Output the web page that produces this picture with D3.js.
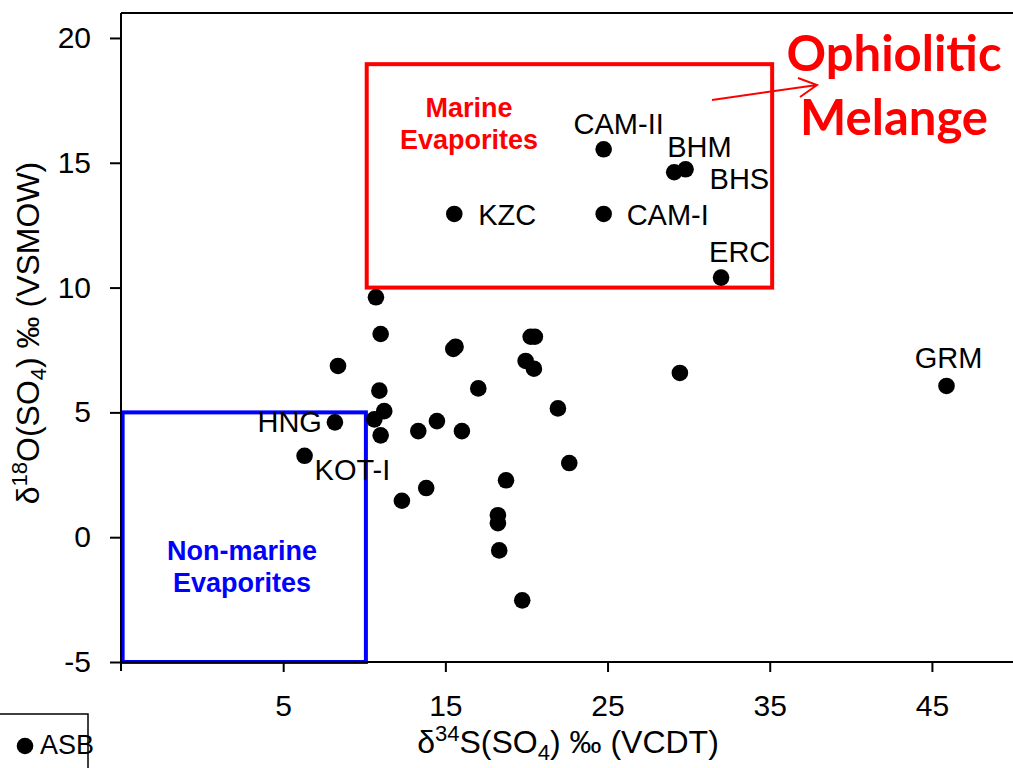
<!DOCTYPE html>
<html>
<head>
<meta charset="utf-8">
<script src="https://cdn.jsdelivr.net/npm/d3@7"></script>
<style>
  body { margin: 0; background: #fff; }
  svg { display: block; font-family: "Liberation Sans", Arial, sans-serif; }
</style>
</head>
<body>
<div id="chart"></div>
<script>
// sample values: d34S (x) and d18O (y)
var sites = ["KZC", "CAM-II", "CAM-I", "BHM", "BHS", "ERC", "GRM", "HNG", "KOT-I",
  "", "", "", "", "", "", "", "", "", "", "", "", "", "", "", "", "", "", "", "", "", "", "", "", "", "", ""];
var s34 = [15.55, 24.76, 24.76, 29.11, 29.81, 32.0, 45.9, 8.19, 6.32,
  10.72, 11.01, 8.38, 15.63, 15.49, 20.26, 20.52, 19.95, 20.46, 10.93, 17.03, 11.23, 10.62, 11.01,
  13.33, 14.48, 16.02, 21.94, 22.64, 18.74, 13.82, 12.32, 18.24, 18.24, 18.32, 19.74, 29.46];
var o18 = [12.95, 15.54, 12.95, 14.62, 14.74, 10.40, 6.06, 4.60, 3.26,
  9.61, 8.14, 6.86, 7.63, 7.54, 8.03, 8.03, 7.06, 6.75, 5.87, 5.96, 5.05, 4.72, 4.08,
  4.25, 4.65, 4.25, 5.16, 2.97, 2.28, 1.97, 1.46, 0.88, 0.56, -0.53, -2.53, 6.58];

var xTicks = [5, 15, 25, 35, 45];
var yTicks = [-5, 0, 5, 10, 15, 20];

// reference fields [x0, x1, y0, y1]
var marineBox = [10.15, 35.15, 10, 18.95];
var nonMarineBox = [-4.9, 10.1, -5, 5];

// where each site label sits around its dot (px)
var labelPos = {
  "KZC":   {anchor: "start",  dx: 24,  dy: 11},
  "CAM-II":{anchor: "middle", dx: 15,  dy: -15},
  "CAM-I": {anchor: "start",  dx: 23,  dy: 11},
  "BHM":   {anchor: "start",  dx: -7,  dy: -15},
  "BHS":   {anchor: "start",  dx: 24,  dy: 20},
  "ERC":   {anchor: "start",  dx: -12, dy: -16},
  "GRM":   {anchor: "middle", dx: 2,   dy: -18},
  "HNG":   {anchor: "end",    dx: -13, dy: 10},
  "KOT-I": {anchor: "start",  dx: 10,  dy: 24}
};

var W = 1013, H = 768;
var plotL = 121, plotR = 1013, plotT = 13, plotB = 662;

var svg = d3.select("#chart").append("svg")
    .attr("width", W).attr("height", H);

var x = d3.scaleLinear().domain([-5, 50]).range([plotL, plotR]);
var y = d3.scaleLinear().domain([-5, 21]).range([plotB, plotT]);

var data = s34.map(function(d, i) { return {x: d, y: o18[i], name: sites[i]}; });

// boxes
svg.append("rect")
    .attr("x", x(marineBox[0])).attr("y", y(marineBox[3]))
    .attr("width", x(marineBox[1]) - x(marineBox[0]))
    .attr("height", y(marineBox[2]) - y(marineBox[3]))
    .attr("fill", "none").attr("stroke", "#ff0000").attr("stroke-width", 4);

svg.append("rect")
    .attr("x", x(nonMarineBox[0])).attr("y", y(nonMarineBox[3]))
    .attr("width", x(nonMarineBox[1]) - x(nonMarineBox[0]))
    .attr("height", y(nonMarineBox[2]) - y(nonMarineBox[3]))
    .attr("fill", "none").attr("stroke", "#0000ff").attr("stroke-width", 4);

// axes (plain hyphen for negatives, like the original)
var fmt = function(d) { return String(d); };
var xAxis = d3.axisBottom(x).tickValues(xTicks).tickFormat(fmt).tickSize(10).tickPadding(23);
var yAxis = d3.axisLeft(y).tickValues(yTicks).tickFormat(fmt).tickSize(11).tickPadding(19);

var gx = svg.append("g").attr("transform", "translate(0," + plotB + ")").call(xAxis);
var gy = svg.append("g").attr("transform", "translate(" + plotL + ",0)").call(yAxis);

[gx, gy].forEach(function(g) {
  g.select(".domain").remove();
  g.selectAll("line").attr("stroke", "#000").attr("stroke-width", 2);
  g.selectAll("text").attr("fill", "#000")
    .style("font-family", "'Liberation Sans', Arial, sans-serif")
    .style("font-size", "30px");
});

svg.append("line").attr("x1", plotL).attr("x2", plotR).attr("y1", plotB).attr("y2", plotB)
    .attr("stroke", "#000").attr("stroke-width", 2);
svg.append("line").attr("x1", plotL).attr("x2", plotL).attr("y1", plotT).attr("y2", plotB + 9)
    .attr("stroke", "#000").attr("stroke-width", 2);
svg.append("line").attr("x1", plotL).attr("x2", plotR).attr("y1", plotT).attr("y2", plotT)
    .attr("stroke", "#000").attr("stroke-width", 2);

// axis titles
var xt = svg.append("text").attr("x", 568).attr("y", 753)
    .attr("text-anchor", "middle").style("font-size", "32px");
xt.append("tspan").text("δ");
xt.append("tspan").attr("dy", -12).style("font-size", "22px").text("34");
xt.append("tspan").attr("dy", 12).text("S(SO");
xt.append("tspan").attr("dy", 7).style("font-size", "22px").text("4");
xt.append("tspan").attr("dy", -7).text(") ‰ (VCDT)");

var yt = svg.append("text").attr("transform", "translate(39,333) rotate(-90)")
    .attr("text-anchor", "middle").style("font-size", "32px");
yt.append("tspan").text("δ");
yt.append("tspan").attr("dy", -12).style("font-size", "22px").text("18");
yt.append("tspan").attr("dy", 12).text("O(SO");
yt.append("tspan").attr("dy", 7).style("font-size", "22px").text("4");
yt.append("tspan").attr("dy", -7).text(") ‰ (VSMOW)");

// points
svg.append("g").selectAll("circle")
    .data(data).enter().append("circle")
    .attr("cx", function(d) { return x(d.x); })
    .attr("cy", function(d) { return y(d.y); })
    .attr("r", 8.3)
    .attr("fill", "#000");

// site labels
svg.append("g").selectAll("text")
    .data(data.filter(function(d) { return d.name; })).enter().append("text")
    .attr("x", function(d) { return x(d.x) + labelPos[d.name].dx; })
    .attr("y", function(d) { return y(d.y) + labelPos[d.name].dy; })
    .attr("text-anchor", function(d) { return labelPos[d.name].anchor; })
    .style("font-size", "29px")
    .text(function(d) { return d.name; });

// field names
var me = svg.append("text").attr("text-anchor", "middle")
    .attr("fill", "#ff0000").style("font-weight", "bold").style("font-size", "27px");
me.append("tspan").attr("x", 469).attr("y", 117).text("Marine");
me.append("tspan").attr("x", 469).attr("y", 149).text("Evaporites");

var ne = svg.append("text").attr("text-anchor", "middle")
    .attr("fill", "#0000ff").style("font-weight", "bold").style("font-size", "27px");
ne.append("tspan").attr("x", 242).attr("y", 560).text("Non-marine");
ne.append("tspan").attr("x", 242).attr("y", 592).text("Evaporites");

// ophiolitic melange callout
var om = svg.append("text").attr("text-anchor", "middle")
    .attr("fill", "#ff0000")
    .style("font-family", "Lato, 'Open Sans', sans-serif")
    .style("font-weight", "bold").style("font-size", "49px");
om.append("tspan").attr("x", 894).attr("y", 71).text("Ophiolitic");
om.append("tspan").attr("x", 894).attr("y", 135).text("Melange");

svg.append("path")
    .attr("d", "M712,100 L817,85 M798,78 L817,85 L800,97")
    .attr("fill", "none").attr("stroke", "#ff0000").attr("stroke-width", 2);

// legend (partly off the page)
var lg = svg.append("g");
lg.append("rect").attr("x", -5).attr("y", 714).attr("width", 93).attr("height", 80)
    .attr("fill", "none").attr("stroke", "#000").attr("stroke-width", 1.5);
lg.append("circle").attr("cx", 25).attr("cy", 746).attr("r", 8.3).attr("fill", "#000");
lg.append("text").attr("x", 40).attr("y", 754).style("font-size", "27px").text("ASB");
</script>
</body>
</html>
